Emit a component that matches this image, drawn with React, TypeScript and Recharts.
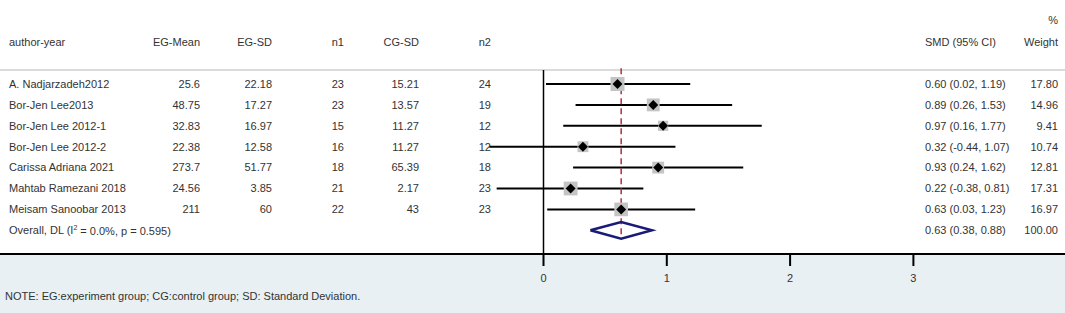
import { ComposedChart, Scatter, ErrorBar, XAxis, YAxis, ReferenceLine } from 'recharts';

// study table
const authors = [
  'A. Nadjarzadeh2012',
  'Bor-Jen Lee2013',
  'Bor-Jen Lee 2012-1',
  'Bor-Jen Lee 2012-2',
  'Carissa Adriana 2021',
  'Mahtab Ramezani 2018',
  'Meisam Sanoobar 2013',
];
const egMean = ['25.6', '48.75', '32.83', '22.38', '273.7', '24.56', '211'];
const egSd = ['22.18', '17.27', '16.97', '12.58', '51.77', '3.85', '60'];
const n1 = [23, 23, 15, 16, 18, 21, 22];
const cgSd = ['15.21', '13.57', '11.27', '11.27', '65.39', '2.17', '43'];
const n2 = [24, 19, 12, 12, 18, 23, 23];
const smd = [0.6, 0.89, 0.97, 0.32, 0.93, 0.22, 0.63];
const ciLow = [0.02, 0.26, 0.16, -0.44, 0.24, -0.38, 0.03];
const ciHigh = [1.19, 1.53, 1.77, 1.07, 1.62, 0.81, 1.23];
const weight = [17.8, 14.96, 9.41, 10.74, 12.81, 17.31, 16.97];

// pooled estimate
const overallLabel = 'Overall, DL';
const overallI2 = '0.0%';
const overallP = '0.595';
const overallSmd = 0.63;
const overallLow = 0.38;
const overallHigh = 0.88;
const overallWeight = 100;

const xTicks = [0, 1, 2, 3];

document.body.style.margin = '0';

const W = 1065;
const H = 313;
const FONT = '"Liberation Sans", Arial, sans-serif';
const TEXT = '#333';
const HEADER_ROW = -2;

const overallRow = authors.length;
const rows = authors.map((a, i) => ({
  x: smd[i],
  y: i,
  err: [smd[i] - ciLow[i], ciHigh[i] - smd[i]],
  w: weight[i],
}));
const diamond = [
  { x: overallLow, y: overallRow },
  { x: overallSmd, y: overallRow - 0.4 },
  { x: overallHigh, y: overallRow },
  { x: overallSmd, y: overallRow + 0.4 },
  { x: overallLow, y: overallRow },
];
// one invisible point per table line; the shape writes the text columns
const tableRows = [HEADER_ROW, ...authors.map((a, i) => i), overallRow].map((r) => ({ x: 0, y: r }));

const fmt = (v: number) => v.toFixed(2);
const ciText = (m: number, l: number, h: number) => `${fmt(m)} (${fmt(l)}, ${fmt(h)})`;

const cols = { author: 9, egMean: 200, egSd: 272, n1: 344, cgSd: 419, n2: 491, smd: 925, weight: 1058 };

function TableLine(props: any) {
  const { cy, payload } = props;
  const v = payload.y;
  const y = cy;
  const t = (x: number, s: string | number, anchor: 'start' | 'end' = 'end') => (
    <text x={x} y={y} dy="0.35em" textAnchor={anchor} fontSize={11} fill={TEXT} fontFamily={FONT}>
      {s}
    </text>
  );
  if (v === HEADER_ROW) {
    return (
      <g>
        {t(cols.author, 'author-year', 'start')}
        {t(cols.egMean, 'EG-Mean')}
        {t(cols.egSd, 'EG-SD')}
        {t(cols.n1, 'n1')}
        {t(cols.cgSd, 'CG-SD')}
        {t(cols.n2, 'n2')}
        {t(cols.smd, 'SMD (95% CI)', 'start')}
        {t(cols.weight, 'Weight')}
        <text x={cols.weight} y={y - 22} dy="0.35em" textAnchor="end" fontSize={11} fill={TEXT} fontFamily={FONT}>%</text>
      </g>
    );
  }
  if (v === overallRow) {
    return (
      <g>
        <text x={cols.author} y={y} dy="0.35em" fontSize={11} fill={TEXT} fontFamily={FONT}>
          {`${overallLabel} (I`}
          <tspan fontSize={7} dy="-0.6em">2</tspan>
          <tspan dy="0.45em">{` = ${overallI2}, p = ${overallP})`}</tspan>
        </text>
        {t(cols.smd, ciText(overallSmd, overallLow, overallHigh), 'start')}
        {t(cols.weight, overallWeight.toFixed(2))}
      </g>
    );
  }
  const i = v;
  return (
    <g>
      {t(cols.author, authors[i], 'start')}
      {t(cols.egMean, egMean[i])}
      {t(cols.egSd, egSd[i])}
      {t(cols.n1, n1[i])}
      {t(cols.cgSd, cgSd[i])}
      {t(cols.n2, n2[i])}
      {t(cols.smd, ciText(smd[i], ciLow[i], ciHigh[i]), 'start')}
      {t(cols.weight, weight[i].toFixed(2))}
    </g>
  );
}

function StudyMarker(props: any) {
  const { cx, cy, payload } = props;
  const s = 3.32 * Math.sqrt(payload.w);
  return (
    <g>
      <rect x={cx - s / 2} y={cy - s / 2} width={s} height={s} fill="#c4c4c4" />
      <polygon points={`${cx - 5},${cy} ${cx},${cy - 5} ${cx + 5},${cy} ${cx},${cy + 5}`} fill="#000" />
    </g>
  );
}

// 0 sits at x≈543.5, 123.3 px per unit
const xDomain = [-543.5 / 123.3, (W - 543.5) / 123.3];
// row 0 at y≈84, 20.9 px per row, axis at y≈254
const yLo = -84 / 20.9;
const yDomain = [yLo, yLo + 254 / 20.9];

export default function App() {
  return (
    <div
      style={{
        width: W,
        height: H,
        background: 'linear-gradient(to bottom, #ffffff 0px, #ffffff 254px, #e8f0f3 254px, #e8f0f3 100%)',
        position: 'relative',
      }}
    >
      <ComposedChart width={W} height={H} margin={{ top: 0, right: 0, bottom: 0, left: 0 }}>
        <XAxis
          type="number"
          dataKey="x"
          domain={xDomain}
          allowDataOverflow
          ticks={xTicks}
          height={H - 254}
          tickSize={12}
          tickMargin={8}
          axisLine={{ stroke: '#000', strokeWidth: 2 }}
          tickLine={{ stroke: '#000', strokeWidth: 2 }}
          tick={{ fontSize: 11, fill: TEXT, fontFamily: FONT }}
        />
        <YAxis type="number" dataKey="y" domain={yDomain} allowDataOverflow reversed hide />
        <ReferenceLine y={-0.67} stroke="#cfcfcf" strokeWidth={1.5} />
        <ReferenceLine
          segment={[{ x: 0, y: -0.67 }, { x: 0, y: yDomain[1] }]}
          stroke="#000"
          strokeWidth={1.5}
        />
        <Scatter data={tableRows} shape={<TableLine />} isAnimationActive={false} />
        <Scatter data={rows} shape={<StudyMarker />} isAnimationActive={false}>
          <ErrorBar dataKey="err" direction="x" width={0} stroke="#000" strokeWidth={2} />
        </Scatter>
        <Scatter
          data={diamond}
          line={{ stroke: '#1a1a78', strokeWidth: 2.5 }}
          shape={() => <g />}
          isAnimationActive={false}
        />
        <ReferenceLine
          segment={[{ x: overallSmd, y: -0.75 }, { x: overallSmd, y: 7.4 }]}
          stroke="#b0303c"
          strokeDasharray="6 4"
          strokeWidth={1.5}
        />
      </ComposedChart>
      <div
        style={{
          position: 'absolute',
          left: 5,
          top: 290,
          fontSize: 11,
          color: TEXT,
          fontFamily: FONT,
          whiteSpace: 'nowrap',
        }}
      >
        NOTE: EG:experiment group; CG:control group; SD: Standard Deviation.
      </div>
    </div>
  );
}
